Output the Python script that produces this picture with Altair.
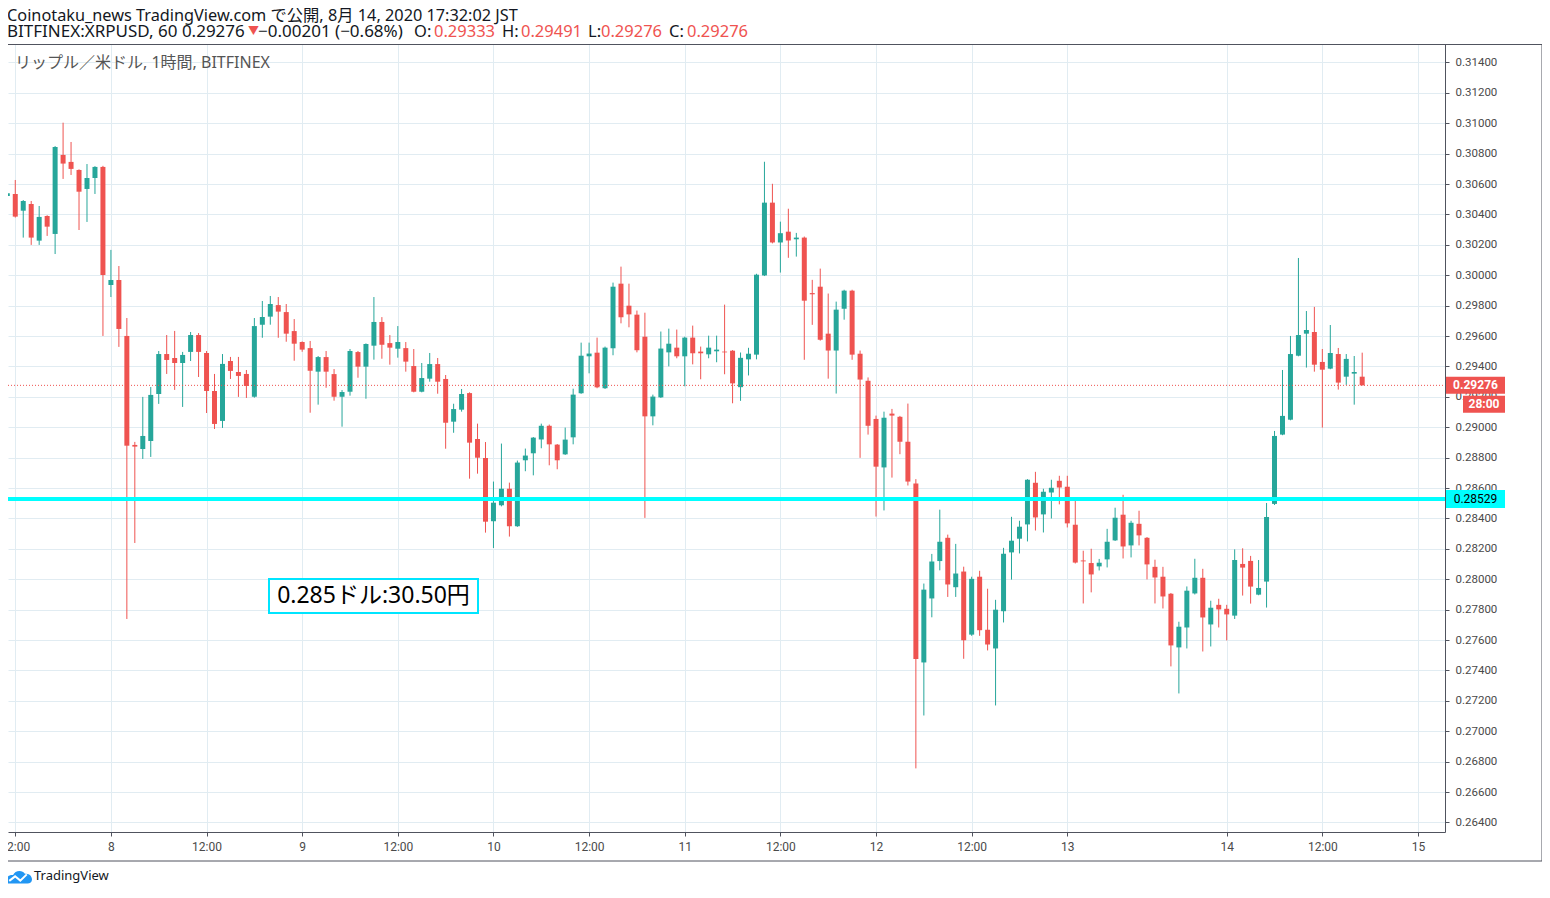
import json
import altair as alt
import pandas as pd

# ---------------- data ----------------
opens = [0.30522, 0.30535, 0.30425, 0.30469, 0.30228, 0.30390, 0.30272, 0.30792, 0.30746, 0.30693,
         0.30568, 0.30640, 0.30713, 0.29936, 0.29969, 0.29601, 0.28884, 0.28857, 0.28910, 0.29219,
         0.29482, 0.29456, 0.29423, 0.29496, 0.29607, 0.29489, 0.29239, 0.29042, 0.29436, 0.29364,
         0.29351, 0.29201, 0.29675, 0.29728, 0.29804, 0.29758, 0.29633, 0.29561, 0.29521, 0.29366,
         0.29462, 0.29350, 0.29201, 0.29234, 0.29495, 0.29399, 0.29537, 0.29693, 0.29554, 0.29517,
         0.29521, 0.29403, 0.29234, 0.29320, 0.29416, 0.29318, 0.29037, 0.29116, 0.29225, 0.28923,
         0.28798, 0.28382, 0.28487, 0.28596, 0.28349, 0.28783, 0.28829, 0.28920, 0.29010, 0.28886,
         0.28822, 0.28934, 0.29224, 0.29467, 0.29491, 0.29257, 0.29520, 0.29945, 0.29800, 0.29741,
         0.29596, 0.29072, 0.29197, 0.29493, 0.29524, 0.29467, 0.29590, 0.29498, 0.29480, 0.29500,
         0.29498, 0.29504, 0.29264, 0.29447, 0.29478, 0.29999, 0.30478, 0.30216, 0.30287, 0.30237,
         0.30248, 0.29883, 0.29925, 0.29616, 0.29505, 0.29780, 0.29899, 0.29484, 0.29306, 0.29055,
         0.28736, 0.29090, 0.29069, 0.28905, 0.28630, 0.27453, 0.27874, 0.28120, 0.28273, 0.27948,
         0.28051, 0.27636, 0.28017, 0.27668, 0.27545, 0.27790, 0.28177, 0.28267, 0.28361, 0.28635,
         0.28427, 0.28571, 0.28648, 0.28609, 0.28359, 0.28124, 0.28107, 0.28085, 0.28131, 0.28256,
         0.28425, 0.28223, 0.28365, 0.28273, 0.28082, 0.28017, 0.27905, 0.27552, 0.27683, 0.27907,
         0.28010, 0.27703, 0.27832, 0.27806, 0.27761, 0.28101, 0.28121, 0.27899, 0.27985, 0.28496,
         0.28952, 0.29050, 0.29471, 0.29616, 0.29627, 0.29430, 0.29386, 0.29482, 0.29333, 0.29353,
         0.29333]
highs = [0.30697, 0.30627, 0.30495, 0.30489, 0.30456, 0.30395, 0.30850, 0.31004, 0.30877, 0.30697,
         0.30732, 0.30718, 0.30720, 0.30167, 0.30061, 0.29719, 0.28904, 0.29200, 0.29265, 0.29502,
         0.29607, 0.29634, 0.29496, 0.29627, 0.29620, 0.29502, 0.29351, 0.29482, 0.29463, 0.29463,
         0.29377, 0.29719, 0.29831, 0.29864, 0.29857, 0.29811, 0.29712, 0.29565, 0.29568, 0.29469,
         0.29502, 0.29383, 0.29245, 0.29515, 0.29502, 0.29552, 0.29857, 0.29725, 0.29607, 0.29666,
         0.29561, 0.29515, 0.29423, 0.29489, 0.29456, 0.29344, 0.29155, 0.29252, 0.29230, 0.29024,
         0.28903, 0.28643, 0.28893, 0.28636, 0.28781, 0.28860, 0.28936, 0.29024, 0.29018, 0.28890,
         0.28998, 0.29254, 0.29557, 0.29557, 0.29590, 0.29531, 0.29952, 0.30057, 0.29945, 0.29768,
         0.29754, 0.29215, 0.29630, 0.29649, 0.29643, 0.29596, 0.29669, 0.29531, 0.29603, 0.29603,
         0.29807, 0.29508, 0.29492, 0.29523, 0.30010, 0.30747, 0.30602, 0.30353, 0.30438, 0.30279,
         0.30255, 0.29970, 0.30044, 0.29880, 0.29827, 0.29905, 0.29905, 0.29505, 0.29328, 0.29077,
         0.29103, 0.29121, 0.29075, 0.29156, 0.28659, 0.27972, 0.28167, 0.28458, 0.28294, 0.28233,
         0.28083, 0.28017, 0.28056, 0.27938, 0.27865, 0.28207, 0.28411, 0.28385, 0.28659, 0.28707,
         0.28596, 0.28655, 0.28681, 0.28681, 0.28530, 0.28188, 0.28201, 0.28134, 0.28332, 0.28471,
         0.28556, 0.28385, 0.28451, 0.28278, 0.28129, 0.28082, 0.27910, 0.27721, 0.27953, 0.28135,
         0.28069, 0.27859, 0.27872, 0.27832, 0.28197, 0.28204, 0.28154, 0.28127, 0.28502, 0.28976,
         0.29377, 0.29601, 0.30114, 0.29765, 0.29792, 0.29515, 0.29673, 0.29522, 0.29482, 0.29469,
         0.29491]
lows = [0.30491, 0.30380, 0.30248, 0.30200, 0.30200, 0.30259, 0.30140, 0.30634, 0.30660, 0.30298,
        0.30351, 0.30535, 0.29601, 0.29857, 0.29529, 0.27739, 0.28239, 0.28792, 0.28805, 0.29154,
        0.29351, 0.29246, 0.29134, 0.29436, 0.29331, 0.29094, 0.28989, 0.28996, 0.29318, 0.29200,
        0.29193, 0.29195, 0.29589, 0.29675, 0.29589, 0.29563, 0.29438, 0.29497, 0.29096, 0.29149,
        0.29260, 0.29175, 0.29004, 0.29208, 0.29326, 0.29188, 0.29445, 0.29451, 0.29412, 0.29458,
        0.29366, 0.29230, 0.29230, 0.29300, 0.29221, 0.28859, 0.28964, 0.29103, 0.28662, 0.28695,
        0.28307, 0.28206, 0.28480, 0.28281, 0.28345, 0.28711, 0.28684, 0.28862, 0.28750, 0.28724,
        0.28818, 0.28888, 0.29220, 0.29355, 0.29257, 0.29252, 0.29474, 0.29684, 0.29658, 0.29493,
        0.28404, 0.29013, 0.29193, 0.29401, 0.29454, 0.29270, 0.29414, 0.29316, 0.29454, 0.29428,
        0.29349, 0.29158, 0.29174, 0.29341, 0.29447, 0.29995, 0.30210, 0.30018, 0.30115, 0.30123,
        0.29444, 0.29674, 0.29570, 0.29320, 0.29222, 0.29708, 0.29444, 0.28799, 0.28952, 0.28413,
        0.28453, 0.28669, 0.28823, 0.28617, 0.26756, 0.27104, 0.27750, 0.28059, 0.27884, 0.27884,
        0.27477, 0.27628, 0.27628, 0.27532, 0.27170, 0.27716, 0.27998, 0.28170, 0.28249, 0.28321,
        0.28308, 0.28400, 0.28493, 0.28341, 0.28104, 0.27841, 0.27914, 0.28058, 0.28078, 0.28252,
        0.28137, 0.28144, 0.28223, 0.27999, 0.27841, 0.27808, 0.27427, 0.27249, 0.27545, 0.27900,
        0.27525, 0.27558, 0.27683, 0.27598, 0.27739, 0.27893, 0.27840, 0.27895, 0.27814, 0.28489,
        0.28948, 0.29046, 0.29467, 0.29393, 0.29366, 0.28998, 0.29382, 0.29248, 0.29279, 0.29149,
        0.29276]
closes = [0.30539, 0.30386, 0.30489, 0.30248, 0.30384, 0.30320, 0.30844, 0.30735, 0.30700, 0.30550,
          0.30640, 0.30713, 0.30002, 0.29969, 0.29647, 0.28879, 0.28873, 0.28943, 0.29213, 0.29482,
          0.29443, 0.29423, 0.29476, 0.29607, 0.29496, 0.29239, 0.29022, 0.29417, 0.29371, 0.29338,
          0.29272, 0.29666, 0.29725, 0.29811, 0.29761, 0.29616, 0.29550, 0.29511, 0.29372, 0.29462,
          0.29366, 0.29201, 0.29232, 0.29502, 0.29399, 0.29548, 0.29693, 0.29543, 0.29524, 0.29561,
          0.29432, 0.29234, 0.29324, 0.29416, 0.29300, 0.29030, 0.29120, 0.29219, 0.28899, 0.28800,
          0.28379, 0.28504, 0.28596, 0.28349, 0.28768, 0.28814, 0.28932, 0.29010, 0.28888, 0.28783,
          0.28919, 0.29215, 0.29471, 0.29485, 0.29263, 0.29524, 0.29925, 0.29724, 0.29743, 0.29507,
          0.29072, 0.29202, 0.29518, 0.29550, 0.29467, 0.29590, 0.29487, 0.29487, 0.29524, 0.29511,
          0.29493, 0.29289, 0.29457, 0.29484, 0.30004, 0.30478, 0.30216, 0.30277, 0.30229, 0.30248,
          0.29833, 0.29875, 0.29576, 0.29505, 0.29774, 0.29899, 0.29478, 0.29314, 0.29010, 0.28741,
          0.29063, 0.29077, 0.28905, 0.28643, 0.27475, 0.27932, 0.28117, 0.28247, 0.27966, 0.28038,
          0.27599, 0.28003, 0.27665, 0.27571, 0.27800, 0.28168, 0.28254, 0.28346, 0.28655, 0.28407,
          0.28576, 0.28602, 0.28604, 0.28368, 0.28110, 0.28118, 0.28032, 0.28109, 0.28247, 0.28405,
          0.28216, 0.28372, 0.28289, 0.28098, 0.28012, 0.27887, 0.27565, 0.27688, 0.27925, 0.28010,
          0.27749, 0.27813, 0.27802, 0.27769, 0.28127, 0.28077, 0.27952, 0.27943, 0.28410, 0.28943,
          0.29075, 0.29482, 0.29607, 0.29640, 0.29412, 0.29379, 0.29489, 0.29294, 0.29450, 0.29364,
          0.29276]

# time axis: bar index of each label and its text (first label is clipped at the left edge)
x_tick_idx = [1, 13, 25, 37, 49, 61, 73, 85, 97, 109, 121, 133, 153, 165, 177]
x_tick_lab = ["", "8", "12:00", "9", "12:00", "10", "12:00", "11", "12:00", "12",
              "12:00", "13", "14", "12:00", "15"]
first_time_label = "2:00"
# price axis
y_ticks = [0.264, 0.266, 0.268, 0.270, 0.272, 0.274, 0.276, 0.278, 0.280, 0.282, 0.284,
           0.286, 0.288, 0.290, 0.292, 0.294, 0.296, 0.298, 0.300, 0.302, 0.304, 0.306,
           0.308, 0.310, 0.312, 0.314]

support_level = [0.28529]
last_price = [0.29276]
countdown = ["28:00"]

header1 = "Coinotaku_news TradingView.com で公開, 8月 14, 2020 17:32:02 JST"
header2_txt = ["BITFINEX:XRPUSD, 60 0.29276", "▼", "−0.00201 (−0.68%)", "O:", "0.29333", "H:",
               "0.29491", "L:", "0.29276", "C:", "0.29276"]
header2_red = [False, True, False, False, True, False, True, False, True, False, True]
header2_x = [-1, 240, 250, 406, 426, 494, 513, 580, 593, 661, 679]
header2_size = [17, 11, 17, 16.5, 16.5, 16.5, 16.5, 16.5, 16.5, 16.5, 16.5]
inner_title = "リップル／米ドル, 1時間, BITFINEX"
note_text = "0.285ドル:30.50円"

# ---------------- styling ----------------
UP = "#26a69a"
DOWN = "#ef5350"
GRID = "#e1ecf2"
AXIS = "#50535e"
TXT = "#131722"
FONT = "'Noto Sans', 'Noto Sans CJK JP', sans-serif"
AFONT = "Roboto, sans-serif"
W, H = 1437, 788

df = pd.DataFrame({"i": list(range(len(opens))), "open": opens, "high": highs,
                   "low": lows, "close": closes})
df["dir"] = ["up" if c >= o else "down" for o, c in zip(opens, closes)]

xscale = alt.Scale(domain=[0.088, 180.39], nice=False, zero=False, padding=0)
yscale = alt.Scale(domain=[0.263375, 0.315217], nice=False, zero=False, padding=0)
color = alt.Color("dir:N", scale=alt.Scale(domain=["up", "down"], range=[UP, DOWN]), legend=None)

label_expr = f"{json.dumps(x_tick_lab)}[indexof({json.dumps(x_tick_idx)}, datum.value)]"

x_axis = alt.Axis(values=x_tick_idx, labelExpr=label_expr, grid=True, gridColor=GRID,
                  domainColor=AXIS, tickColor=AXIS, tickSize=4, labelPadding=5,
                  labelFontSize=12, labelColor="#4a4a4a", labelFont=AFONT,
                  labelOverlap=False, labelFlush=False, title=None)
y_axis = alt.Axis(orient="right", values=y_ticks, format=".5f", grid=True, gridColor=GRID,
                  domainColor=AXIS, tickColor=AXIS, tickSize=4, labelPadding=6,
                  labelFontSize=11.5, labelColor="#4a4a4a", labelFont=AFONT,
                  labelOverlap=False, labelFlush=False, title=None)


def X(field):
    return alt.X(field, scale=xscale, axis=x_axis)


def Y(field):
    return alt.Y(field, scale=yscale, axis=y_axis)


base = alt.Chart(df)

wicks = base.mark_rule(strokeWidth=1, clip=True).encode(
    x=X("i:Q"), y=Y("low:Q"), y2="high:Q", color=color)
bodies = base.mark_bar(size=5, clip=True).encode(
    x=X("i:Q"), y=Y("open:Q"), y2="close:Q", color=color)

sup_df = pd.DataFrame({"p": support_level})
last_df = pd.DataFrame({"p": last_price, "cd": countdown})

sup_line = alt.Chart(sup_df).mark_rule(color="#00ffff", strokeWidth=4).encode(
    y=Y("p:Q"), x=alt.value(0), x2=alt.value(W))
last_line = alt.Chart(last_df).mark_rule(color=DOWN, strokeWidth=1, strokeDash=[1, 2]).encode(
    y=Y("p:Q"), x=alt.value(0), x2=alt.value(W))

sup_box = alt.Chart(sup_df).mark_rule(color="#00ffff", strokeWidth=18, strokeCap="butt").encode(
    y=Y("p:Q"), x=alt.value(W + 1), x2=alt.value(W + 60))
sup_txt = alt.Chart(sup_df).mark_text(color="#000000", fontSize=12, font=AFONT,
                                      align="center", baseline="middle").encode(
    y=Y("p:Q"), x=alt.value(W + 30.5), text=alt.Text("p:Q", format=".5f"))
last_box = alt.Chart(last_df).mark_rule(color=DOWN, strokeWidth=17, strokeCap="butt").encode(
    y=Y("p:Q"), x=alt.value(W + 1), x2=alt.value(W + 60))
last_txt = alt.Chart(last_df).mark_text(color="#ffffff", fontSize=12, font=AFONT, fontWeight="bold",
                                        align="center", baseline="middle").encode(
    y=Y("p:Q"), x=alt.value(W + 30.5), text=alt.Text("p:Q", format=".5f"))
cd_box = alt.Chart(last_df).mark_rule(color=DOWN, strokeWidth=17, strokeCap="butt", yOffset=19).encode(
    y=Y("p:Q"), x=alt.value(W + 18), x2=alt.value(W + 60))
cd_txt = alt.Chart(last_df).mark_text(color="#ffffff", fontSize=12, font=AFONT, fontWeight="bold",
                                      align="center", baseline="middle", yOffset=19).encode(
    y=Y("p:Q"), x=alt.value(W + 39), text="cd:N")

first_lab = alt.Chart(pd.DataFrame({"t": [first_time_label]})).mark_text(
    align="left", baseline="middle", fontSize=12, font=AFONT, color="#4a4a4a").encode(
    x=alt.value(-1), y=alt.value(803), text="t:N")

# frame around chart + price scale + time scale
frame = alt.Chart(sup_df).mark_rect(fillOpacity=0, stroke=AXIS, strokeWidth=1).encode(
    x=alt.value(-0.5), x2=alt.value(1534), y=alt.value(0.5), y2=alt.value(817))

h1 = alt.Chart(pd.DataFrame({"t": [header1]})).mark_text(
    align="left", baseline="middle", fontSize=16.3, font=FONT, color=TXT).encode(
    x=alt.value(-1), y=alt.value(-28.5), text="t:N")

h2_layers = []
for t, red, xx, fs in zip(header2_txt, header2_red, header2_x, header2_size):
    h2_layers.append(
        alt.Chart(pd.DataFrame({"t": [t]})).mark_text(
            align="left", baseline="middle", fontSize=fs, font=FONT,
            color=(DOWN if red else TXT)).encode(x=alt.value(xx), y=alt.value(-12), text="t:N"))

inner = alt.Chart(pd.DataFrame({"t": [inner_title]})).mark_text(
    align="left", baseline="middle", fontSize=16, font=FONT, color="#555555").encode(
    x=alt.value(7), y=alt.value(19), text="t:N")

note_box = alt.Chart(pd.DataFrame({"t": [note_text]})).mark_rect(
    fill="#ffffff", stroke="#00e5ff", strokeWidth=2).encode(
    x=alt.value(261), x2=alt.value(470), y=alt.value(535), y2=alt.value(569))
note = alt.Chart(pd.DataFrame({"t": [note_text]})).mark_text(
    align="center", baseline="middle", fontSize=23, font=FONT, color="#000000").encode(
    x=alt.value(365.5), y=alt.value(552), text="t:N")

cloud = "M -1 0.35 C -1 0 -0.75 -0.2 -0.45 -0.15 C -0.35 -0.5 0.25 -0.6 0.45 -0.25 C 0.8 -0.3 1 -0.05 1 0.2 C 1 0.4 0.85 0.5 0.65 0.5 L -0.8 0.5 C -0.92 0.5 -1 0.45 -1 0.35 Z"
zig = "M -0.75 0.3 L -0.3 -0.05 L 0.1 0.28 L 0.6 -0.2"
logo_df = pd.DataFrame({"t": ["TradingView"]})
logo_cloud = alt.Chart(logo_df).mark_point(shape=cloud, filled=True, color="#2196f3", size=676,
                                           opacity=1).encode(x=alt.value(11), y=alt.value(833))
logo_zig = alt.Chart(logo_df).mark_point(shape=zig, filled=False, color="#ffffff", size=676,
                                         strokeWidth=2, opacity=1).encode(x=alt.value(11), y=alt.value(833))
logo_txt = alt.Chart(logo_df).mark_text(align="left", baseline="middle", fontSize=13, font=FONT,
                                        color=TXT).encode(x=alt.value(26), y=alt.value(832), text="t:N")

chart = alt.layer(
    wicks, bodies, last_line, sup_line, sup_box, sup_txt, last_box, last_txt, cd_box, cd_txt,
    first_lab, frame, h1, *h2_layers, inner, note_box, note, logo_cloud, logo_zig, logo_txt,
).properties(
    width=W, height=H,
    padding={"left": 0, "top": 36, "right": 97, "bottom": 52},
    autosize=alt.AutoSizeParams(type="none"),
    background="#ffffff",
).configure_view(stroke=None)

chart.save("out.html", embed_options={"renderer": "svg", "actions": False})
